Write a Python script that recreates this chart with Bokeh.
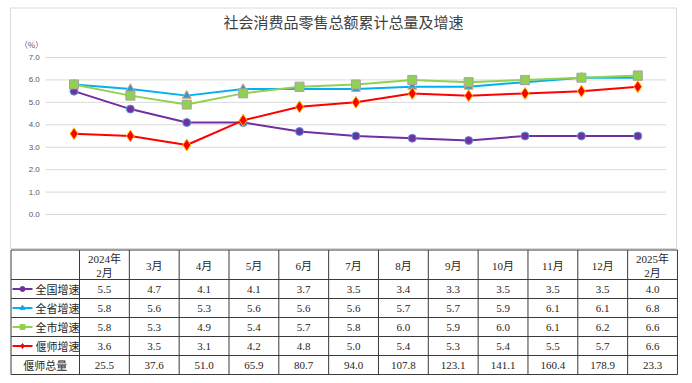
from bokeh.plotting import figure
from bokeh.models import Range1d
from bokeh.core.properties import value
from bokeh.embed import file_html
from bokeh.resources import INLINE

# ---------------- data ----------------
title_text = "社会消费品零售总额累计总量及增速"
unit_label = "（%）"
table_headers = ["2024年\n2月", "3月", "4月", "5月", "6月", "7月", "8月",
                 "9月", "10月", "11月", "12月", "2025年\n2月"]
series_names = ["全国增速", "全省增速", "全市增速", "偃师增速"]
national = [5.5, 4.7, 4.1, 4.1, 3.7, 3.5, 3.4, 3.3, 3.5, 3.5, 3.5, 4.0]
province = [5.8, 5.6, 5.3, 5.6, 5.6, 5.6, 5.7, 5.7, 5.9, 6.1, 6.1, 6.8]
city = [5.8, 5.3, 4.9, 5.4, 5.7, 5.8, 6.0, 5.9, 6.0, 6.1, 6.2, 6.6]
yanshi = [3.6, 3.5, 3.1, 4.2, 4.8, 5.0, 5.4, 5.3, 5.4, 5.5, 5.7, 6.6]
total_label = "偃师总量"
yanshi_total = [25.5, 37.6, 51.0, 65.9, 80.7, 94.0, 107.8, 123.1, 141.1, 160.4, 178.9, 23.3]
chart_points = 11  # chart plots 2024年2月 .. 12月
y_ticks = [0, 1, 2, 3, 4, 5, 6, 7]

# ---------------- styles ----------------
styles = [
    dict(line="#7030A0", marker="circle", fill="#7030A0", edge="#5B9BD5", size=8),
    dict(line="#00B0F0", marker="triangle", fill="#2E9AD6", edge="#E8A070", size=9),
    dict(line="#92D050", marker="square", fill="#92D050", edge="#A5A5A5", size=9),
    dict(line="#FF0000", marker="diamond", fill="#FF0000", edge="#FFC000", size=12),
]
series = [national, province, city, yanshi]

CJK = value("Noto Sans CJK SC")
SERIF = value("Liberation Serif, Noto Sans CJK SC")

W, H = 692, 383
# chart scale: category step and value step in px
cx0, cstep = 73.5, 56.38
vy7, vstep = 57.0, 22.43
# table scale
tcol0, col_w = 79.0, 49.83
ttop = 249.0

p = figure(width=W, height=H, output_backend="svg", toolbar_location=None,
           x_range=Range1d(-cx0 / cstep, (W - cx0) / cstep),
           y_range=Range1d(7 - (H - vy7) / vstep, 7 + vy7 / vstep),
           min_border_left=0, min_border_right=0, min_border_top=0, min_border_bottom=0)
p.extra_x_ranges = {"tx": Range1d(-tcol0 / col_w, (W - tcol0) / col_w)}
p.extra_y_ranges = {"ty": Range1d(H - ttop, -ttop)}
p.axis.visible = False
p.grid.visible = False
p.outline_line_color = None
p.background_fill_color = "white"
p.border_fill_color = "white"

n = chart_points
xs = list(range(n))

# chart box
bx0, bx1 = (10 - cx0) / cstep, (676 - cx0) / cstep
by1, by0 = 7 + (vy7 - 7.5) / vstep, 7 - (248 - vy7) / vstep
p.quad(left=[bx0], right=[bx1], bottom=[by0], top=[by1], fill_color=None,
       line_color="#D9D9D9", line_width=1)

# gridlines
p.segment(x0=[-0.5] * len(y_ticks), x1=[n - 0.5] * len(y_ticks), y0=y_ticks, y1=y_ticks,
          line_color="#D9D9D9", line_width=1)
p.text(x=[-0.5] * len(y_ticks), y=y_ticks, text=["%.1f" % t for t in y_ticks],
       x_offset=-6, text_align="right", text_baseline="middle",
       text_font=value("Liberation Sans"), text_font_size="8px", text_color="#595959")
p.text(x=[-0.5], y=[y_ticks[-1]], text=[unit_label], x_offset=-26, y_offset=-13,
       text_align="left", text_baseline="middle",
       text_font=CJK, text_font_size="8px", text_color="#595959")
p.text(x=[(bx0 + bx1) / 2], y=[y_ticks[-1]], text=[title_text], y_offset=-36,
       text_align="center", text_baseline="middle",
       text_font=CJK, text_font_size="15px", text_color="#404040")

for vals, st in zip(series, styles):
    ys = vals[:n]
    p.line(xs, ys, line_color=st["line"], line_width=2)
    p.scatter(xs, ys, marker=st["marker"], size=st["size"], fill_color=st["fill"],
              line_color=st["edge"], line_width=1)

# ---------------- table ----------------
ncol = len(table_headers)
lab_left = (10.5 - tcol0) / col_w
header_h, row_h = 30, 19
nrows = len(series) + 1
T = dict(x_range_name="tx", y_range_name="ty")

row_edges = [0.5, header_h] + [header_h + row_h * (k + 1) for k in range(nrows)]
col_edges = [lab_left] + list(range(ncol + 1))
p.segment(x0=[lab_left] * len(row_edges), x1=[ncol] * len(row_edges),
          y0=row_edges, y1=row_edges, line_color="#3A3A3A", line_width=1, **T)
p.segment(x0=col_edges, x1=col_edges, y0=[row_edges[0]] * len(col_edges),
          y1=[row_edges[-1]] * len(col_edges), line_color="#3A3A3A", line_width=1, **T)

# headers
hx1, hy1, ht1 = [], [], []
for i, h in enumerate(table_headers):
    parts = h.split("\n")
    if len(parts) == 1:
        hx1.append(i + 0.5); hy1.append(header_h / 2 + 1); ht1.append(parts[0])
    else:
        hx1 += [i + 0.5, i + 0.5]
        hy1 += [header_h / 2 - 6, header_h / 2 + 8]
        ht1 += parts
p.text(x=hx1, y=hy1, text=ht1, text_align="center", text_baseline="middle",
       text_font=SERIF, text_font_size="11px", text_color="#262626", **T)

# data rows
all_rows = series + [yanshi_total]
for r, vals in enumerate(all_rows):
    yc = header_h + row_h * r + row_h / 2
    p.text(x=[i + 0.5 for i in range(ncol)], y=[yc] * ncol, text=["%.1f" % v for v in vals],
           text_align="center", text_baseline="middle",
           text_font=value("Liberation Serif"), text_font_size="11px", text_color="#262626", **T)

# legend in label column
lx0, lx1 = (12 - tcol0) / col_w, (32 - tcol0) / col_w
for r, (name, st) in enumerate(zip(series_names, styles)):
    yc = header_h + row_h * r + row_h / 2
    p.segment(x0=[lx0], x1=[lx1], y0=[yc], y1=[yc], line_color=st["line"], line_width=2, **T)
    p.scatter([(lx0 + lx1) / 2], [yc], marker=st["marker"], size=5,
              fill_color=st["line"], line_color=st["line"], **T)
    p.text(x=[(35 - tcol0) / col_w], y=[yc], text=[name], text_align="left", text_baseline="middle",
           text_font=CJK, text_font_size="11px", text_color="#262626", **T)
yc = header_h + row_h * len(series) + row_h / 2
p.text(x=[lab_left / 2], y=[yc], text=[total_label], text_align="center", text_baseline="middle",
       text_font=CJK, text_font_size="11px", text_color="#262626", **T)

open("out.html", "w").write(file_html(p, INLINE))
